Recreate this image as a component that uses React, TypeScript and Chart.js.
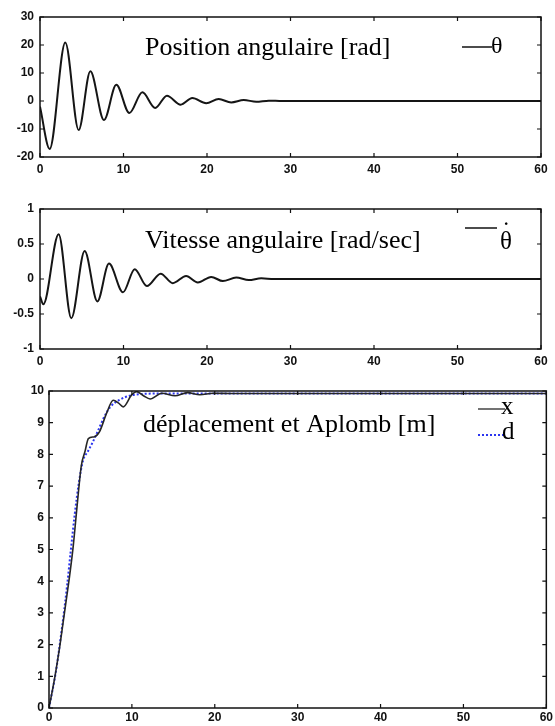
import React, { useEffect, useRef } from "react";
import { Chart, registerables } from "chart.js";
Chart.register(...registerables);

// ---------------- data ----------------
const xTickValues = [0, 10, 20, 30, 40, 50, 60];

// Position angulaire θ [rad]
const thetaTime = [0, 1.16, 3.03, 4.63, 6.03, 7.66, 9.14, 10.7, 12.26, 13.8, 15.2, 16.85, 18.24, 19.9, 21.4, 22.9, 24.4, 25.9, 27.4, 29, 60];
const thetaValues = [-2, -17.1, 20.9, -10.4, 10.6, -6.8, 5.8, -4.3, 3.1, -2.5, 1.9, -1.3, 1.07, -0.8, 0.7, -0.5, 0.35, -0.25, 0.12, 0, 0];

// Vitesse angulaire θ̇ [rad/sec]
const thetaDotTime = [0, 0.4, 2.23, 3.75, 5.35, 6.87, 8.26, 9.94, 11.34, 12.8, 14.45, 15.9, 17.5, 18.9, 20.5, 21.9, 23.5, 25, 26.5, 28, 60];
const thetaDotValues = [-0.25, -0.36, 0.64, -0.56, 0.4, -0.32, 0.22, -0.19, 0.14, -0.1, 0.076, -0.06, 0.043, -0.05, 0.03, -0.03, 0.02, -0.015, 0.01, 0, 0];

// déplacement x [m]
const posTime = [0, 0.72, 1.33, 2.4, 2.9, 3.4, 3.9, 4.35, 4.75, 5.5, 6.1, 6.95, 7.75, 8.4, 8.95, 9.95, 10.55, 11.4, 12.2, 13.6, 15.2, 16.7, 18.2, 19.8, 22, 25, 60];
const posValues = [0, 1.0, 2.0, 4.0, 5.05, 6.4, 7.65, 8.1, 8.5, 8.56, 8.72, 9.3, 9.71, 9.62, 9.5, 9.87, 9.98, 9.85, 9.75, 9.93, 9.85, 9.95, 9.88, 9.93, 9.92, 9.92, 9.92];

// Aplomb d [m]
const plumbTime = [0, 0.8, 1.5, 2.2, 2.6, 3.1, 3.6, 4.1, 4.7, 5.3, 6.0, 6.7, 7.4, 8.5, 9.7, 11, 13, 60];
const plumbValues = [0, 1.1, 2.4, 3.9, 4.9, 6.1, 7.1, 7.8, 8.1, 8.4, 8.8, 9.2, 9.5, 9.72, 9.85, 9.9, 9.92, 9.92];

const thetaYTicks = [-20, -10, 0, 10, 20, 30];
const thetaDotYTicks = [-1, -0.5, 0, 0.5, 1];
const posYTicks = [0, 1, 2, 3, 4, 5, 6, 7, 8, 9, 10];

const titles = ["Position angulaire [rad]", "Vitesse angulaire [rad/sec]", "déplacement et Aplomb [m]"];

// ---------------- helpers ----------------
const SERIF = '"Liberation Serif", "Times New Roman", serif';
const SANS = '"Liberation Sans", Arial, Helvetica, sans-serif';

function pts(t: number[], v: number[]) {
  return t.map((x, i) => ({ x, y: v[i] }));
}

type Area = { left: number; right: number; top: number; bottom: number };

function makeFrame(draw: (ctx: CanvasRenderingContext2D, a: Area) => void) {
  return {
    id: "frame",
    afterDatasetsDraw(chart: any) {
      const { ctx, chartArea: a, scales } = chart;
      ctx.save();
      ctx.strokeStyle = "#111";
      ctx.lineWidth = 1.5;
      ctx.strokeRect(a.left, a.top, a.right - a.left, a.bottom - a.top);
      ctx.lineWidth = 1.2;
      const L = 4;
      ctx.beginPath();
      scales.x.ticks.forEach((t: any) => {
        const px = scales.x.getPixelForValue(t.value);
        ctx.moveTo(px, a.bottom);
        ctx.lineTo(px, a.bottom - L);
        ctx.moveTo(px, a.top);
        ctx.lineTo(px, a.top + L);
      });
      scales.y.ticks.forEach((t: any) => {
        const py = scales.y.getPixelForValue(t.value);
        ctx.moveTo(a.left, py);
        ctx.lineTo(a.left + L, py);
        ctx.moveTo(a.right, py);
        ctx.lineTo(a.right - L, py);
      });
      ctx.stroke();
      ctx.restore();
    },
    afterDraw(chart: any) {
      const ctx = chart.ctx as CanvasRenderingContext2D;
      ctx.save();
      draw(ctx, chart.chartArea);
      ctx.restore();
    },
  };
}

function makeConfig(p: {
  datasets: any[];
  yMin: number;
  yMax: number;
  yTicks: number[];
  yWidth: number;
  xHeight: number;
  padTop: number;
  padRight: number;
  yPad: number;
  xPad: number;
  draw: (ctx: CanvasRenderingContext2D, a: Area) => void;
}) {
  const tickFont = { family: SANS, size: 12, weight: "bold" as const };
  return {
    type: "line" as const,
    data: { datasets: p.datasets },
    options: {
      animation: false,
      responsive: false,
      devicePixelRatio: 1,
      layout: { padding: { top: p.padTop, right: p.padRight, left: 0, bottom: 0 } },
      plugins: { legend: { display: false }, tooltip: { enabled: false }, title: { display: false } },
      elements: { point: { radius: 0 } },
      scales: {
        x: {
          type: "linear",
          min: 0,
          max: 60,
          grid: { display: false, drawTicks: false, tickLength: 0 },
          border: { display: false },
          afterBuildTicks: (s: any) => {
            s.ticks = xTickValues.map((v) => ({ value: v }));
          },
          afterFit: (s: any) => {
            s.height = p.xHeight;
          },
          ticks: {
            autoSkip: false,
            maxRotation: 0,
            padding: p.xPad,
            color: "#111",
            font: tickFont,
            callback: (v: any) => String(v),
          },
        },
        y: {
          type: "linear",
          min: p.yMin,
          max: p.yMax,
          grid: { display: false, drawTicks: false, tickLength: 0 },
          border: { display: false },
          afterBuildTicks: (s: any) => {
            s.ticks = p.yTicks.map((v) => ({ value: v }));
          },
          afterFit: (s: any) => {
            s.width = p.yWidth;
          },
          ticks: {
            autoSkip: false,
            padding: p.yPad,
            color: "#111",
            font: tickFont,
            callback: (v: any) => String(v),
          },
        },
      },
    },
    plugins: [makeFrame(p.draw)],
  };
}

function ChartCanvas({ config, top, height }: { config: any; top: number; height: number }) {
  const ref = useRef<HTMLCanvasElement | null>(null);
  useEffect(() => {
    if (!ref.current) return;
    const c = new Chart(ref.current, config);
    return () => c.destroy();
  }, [config]);
  return (
    <canvas
      ref={ref}
      width={555}
      height={height}
      style={{ position: "absolute", left: 0, top, width: 555, height }}
    />
  );
}

const lineBase = { pointRadius: 0, fill: false, cubicInterpolationMode: "monotone" as const };

const config1 = makeConfig({
  datasets: [{ ...lineBase, data: pts(thetaTime, thetaValues), borderColor: "#151515", borderWidth: 2 }],
  yMin: -20,
  yMax: 30,
  yTicks: thetaYTicks,
  yWidth: 40,
  xHeight: 20,
  padTop: 17,
  padRight: 14,
  yPad: 6,
  xPad: 5,
  draw: (ctx, a) => {
    ctx.fillStyle = "#000";
    ctx.textBaseline = "alphabetic";
    ctx.font = `26px ${SERIF}`;
    ctx.fillText(titles[0], a.left + 105, a.top + 38);
    ctx.strokeStyle = "#111";
    ctx.lineWidth = 1.5;
    ctx.beginPath();
    ctx.moveTo(a.left + 422, a.top + 30);
    ctx.lineTo(a.left + 452, a.top + 30);
    ctx.stroke();
    ctx.font = `24px ${SERIF}`;
    ctx.fillText("θ", a.left + 451, a.top + 36);
  },
});

const config2 = makeConfig({
  datasets: [{ ...lineBase, data: pts(thetaDotTime, thetaDotValues), borderColor: "#151515", borderWidth: 2 }],
  yMin: -1,
  yMax: 1,
  yTicks: thetaDotYTicks,
  yWidth: 40,
  xHeight: 20,
  padTop: 24,
  padRight: 14,
  yPad: 6,
  xPad: 5,
  draw: (ctx, a) => {
    ctx.fillStyle = "#000";
    ctx.textBaseline = "alphabetic";
    ctx.font = `26px ${SERIF}`;
    ctx.fillText(titles[1], a.left + 105, a.top + 39);
    ctx.strokeStyle = "#111";
    ctx.lineWidth = 1.5;
    ctx.beginPath();
    ctx.moveTo(a.left + 425, a.top + 19);
    ctx.lineTo(a.left + 457, a.top + 19);
    ctx.stroke();
    ctx.font = `25px ${SERIF}`;
    ctx.fillText("θ", a.left + 460, a.top + 40);
    ctx.fillText("˙", a.left + 462, a.top + 30);
  },
});

const config3 = makeConfig({
  datasets: [
    { ...lineBase, data: pts(posTime, posValues), borderColor: "#262626", borderWidth: 1.6 },
    { ...lineBase, data: pts(plumbTime, plumbValues), borderColor: "#2b35f0", borderWidth: 2, borderDash: [2, 2] },
  ],
  yMin: 0,
  yMax: 10,
  yTicks: posYTicks,
  yWidth: 49,
  xHeight: 18,
  padTop: 21,
  padRight: 7,
  yPad: 5,
  xPad: 2,
  draw: (ctx, a) => {
    ctx.fillStyle = "#000";
    ctx.textBaseline = "alphabetic";
    ctx.font = `26px ${SERIF}`;
    ctx.fillText(titles[2], a.left + 94, a.top + 41);
    ctx.strokeStyle = "#444";
    ctx.lineWidth = 1.5;
    ctx.beginPath();
    ctx.moveTo(a.left + 429, a.top + 18);
    ctx.lineTo(a.left + 456, a.top + 18);
    ctx.stroke();
    ctx.strokeStyle = "#2b35f0";
    ctx.lineWidth = 2;
    ctx.setLineDash([2, 2]);
    ctx.beginPath();
    ctx.moveTo(a.left + 429, a.top + 44);
    ctx.lineTo(a.left + 456, a.top + 44);
    ctx.stroke();
    ctx.setLineDash([]);
    ctx.font = `25px ${SERIF}`;
    ctx.fillText("x", a.left + 452, a.top + 23);
    ctx.fillText("d", a.left + 453, a.top + 48);
  },
});

export default function App() {
  return (
    <div style={{ position: "absolute", left: 0, top: 0, width: 555, height: 726, background: "#fff", overflow: "hidden" }}>
      <ChartCanvas config={config1} top={0} height={177} />
      <ChartCanvas config={config2} top={185} height={184} />
      <ChartCanvas config={config3} top={370} height={356} />
    </div>
  );
}
